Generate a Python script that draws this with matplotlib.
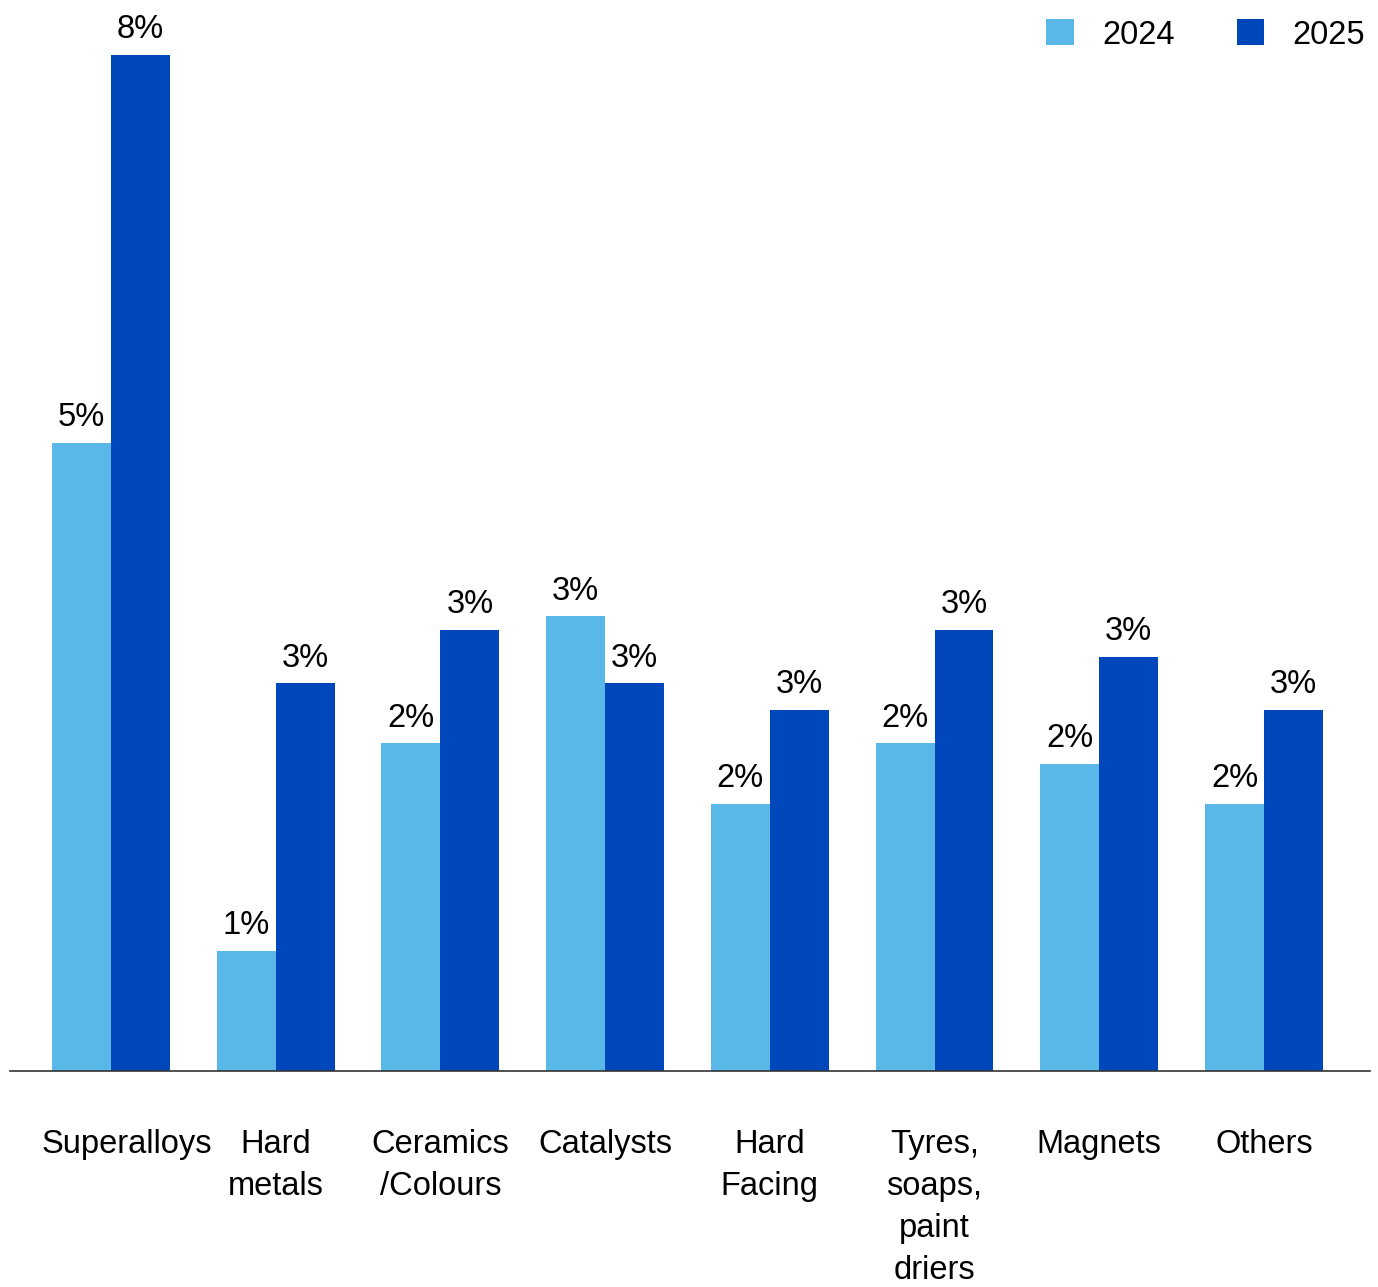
import matplotlib.pyplot as plt
import numpy as np

plt.rcParams['font.family'] = ['Liberation Sans', 'DejaVu Sans']

categories = ["Superalloys", "Hard\nmetals", "Ceramics\n/Colours", "Catalysts",
              "Hard\nFacing", "Tyres,\nsoaps,\npaint\ndriers", "Magnets", "Others"]
share_2024 = [4.7, 0.9, 2.45, 3.4, 2.0, 2.45, 2.3, 2.0]
share_2025 = [7.6, 2.9, 3.3, 2.9, 2.7, 3.3, 3.1, 2.7]
years = ["2024", "2025"]

light = "#5AB8E8"
dark = "#0047BB"
fs = 23.5
pad = 42

fig = plt.figure(figsize=(13.78, 12.87), dpi=100)
ax = fig.add_axes([10 / 1378, 1 - 1071 / 1287, 1360 / 1378, (1071 - 55) / 1287])

x = np.arange(len(categories))
w = 0.358
b1 = ax.bar(x - w / 2, share_2024, w, color=light, label=years[0])
b2 = ax.bar(x + w / 2, share_2025, w, color=dark, label=years[1])

for bars, vals in ((b1, share_2024), (b2, share_2025)):
    for rect, v in zip(bars, vals):
        ax.annotate(f"{v:.0f}%", (rect.get_x() + rect.get_width() / 2, v),
                    xytext=(0, 7), textcoords="offset points",
                    ha="center", va="bottom", fontsize=fs, clip_on=False)

ax.set_xlim(-0.613, 7.644)
ax.set_ylim(0, 7.6)
ax.set_xticks(x)
# first label sits a little right of its group in the original, draw it separately
ax.set_xticklabels([""] + categories[1:], fontsize=fs, linespacing=1.46, va="top")
ax.annotate(categories[0], (x[0], 0), xycoords=ax.get_xaxis_transform(),
            xytext=(11.5, -pad), textcoords="offset points",
            ha="center", va="top", fontsize=fs, annotation_clip=False)
ax.tick_params(axis="x", length=0, pad=pad)
ax.set_yticks([])
for s in ["top", "right", "left"]:
    ax.spines[s].set_visible(False)
ax.spines["bottom"].set_color("#333333")
ax.spines["bottom"].set_linewidth(1.2)

fig.legend(loc="upper right", bbox_to_anchor=(1394 / 1378, 1 + 10 / 1287), ncol=2,
           frameon=False, fontsize=fs, handlelength=0.85, handleheight=0.85,
           handletextpad=0.85, columnspacing=1.9)

fig.savefig("out.png", dpi=100)
